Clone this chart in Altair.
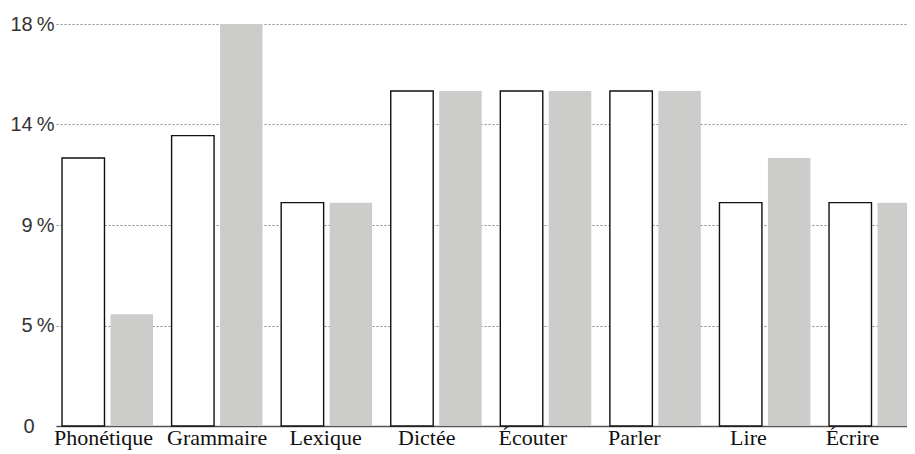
import altair as alt
import pandas as pd

# ---- data ----
categories = ["Phonétique", "Grammaire", "Lexique", "Dictée", "Écouter", "Parler", "Lire", "Écrire"]
series_outline = [0.12, 0.13, 0.10, 0.15, 0.15, 0.15, 0.10, 0.10]   # white bars, black outline
series_gray = [0.05, 0.18, 0.10, 0.15, 0.15, 0.15, 0.12, 0.10]      # gray bars
tick_values = [0, 0.045, 0.09, 0.135, 0.18]
tick_labels = ["0", "5\u2009%", "9\u2009%", "14\u2009%", "18\u2009%"]

# ---- styling (label nudges to match the reference placement) ----
x_label_nudge = {"Phonétique": -4, "Grammaire": 0, "Lexique": -1, "Dictée": -9.5,
                 "Écouter": -13, "Parler": -21, "Lire": -16.5, "Écrire": -22}

df = pd.DataFrame({
    "category": categories * 2,
    "series": ["a"] * len(categories) + ["b"] * len(categories),
    "value": series_outline + series_gray,
})

vals_js = "[" + ",".join(str(v) for v in tick_values) + "]"
labs_js = "[" + ",".join("'" + l + "'" for l in tick_labels) + "]"
y_label_expr = f"{labs_js}[indexof({vals_js}, datum.value)]"

label_offset = {
    "condition": [{"test": f"datum.value === '{k}'", "value": v} for k, v in x_label_nudge.items() if v != 0],
    "value": 0,
}

x_axis = alt.Axis(
    title=None, labelAngle=0, ticks=False, tickSize=0, domain=True,
    domainColor="#555555", domainWidth=1.5,
    labelFont="Liberation Serif", labelFontSize=22, labelColor="#111111",
    labelPadding=1, labelOffset=label_offset, grid=False,
)

y_axis = alt.Axis(
    title=None, values=tick_values, labelExpr=y_label_expr,
    domain=False, ticks=False, grid=True,
    gridColor="#8a8a8a", gridDash=[2, 2], gridWidth=1,
    labelFont="Liberation Sans", labelFontSize=20, labelColor="#333333",
    labelPadding={"condition": {"test": "datum.value === 0", "value": 22}, "value": 2},
    labelBaseline="middle",
)

chart = alt.Chart(df).mark_bar(opacity=1).encode(
    x=alt.X("category:N", sort=categories,
            scale=alt.Scale(paddingInner=0.17, paddingOuter=0.055), axis=x_axis),
    xOffset=alt.XOffset("series:N",
                        scale=alt.Scale(domain=["a", "b"], paddingInner=0.124, paddingOuter=0)),
    y=alt.Y("value:Q", scale=alt.Scale(domain=[0, 0.18], nice=False, zero=True), axis=y_axis),
    fill=alt.Fill("series:N", scale=alt.Scale(domain=["a", "b"], range=["#ffffff", "#cccdcb"]), legend=None),
    stroke=alt.Stroke("series:N", scale=alt.Scale(domain=["a", "b"], range=["#111111", "#cccdcb"]), legend=None),
    strokeWidth=alt.StrokeWidth("series:N", scale=alt.Scale(domain=["a", "b"], range=[1.4, 0]), legend=None),
).properties(
    width=870, height=402,
    autosize=alt.AutoSizeParams(type="none"),
    padding={"left": 48, "right": -19, "top": 16, "bottom": 28},
    background="white",
).configure_view(stroke=None)

chart.save("out.html", embed_options={"renderer": "svg", "actions": False})
